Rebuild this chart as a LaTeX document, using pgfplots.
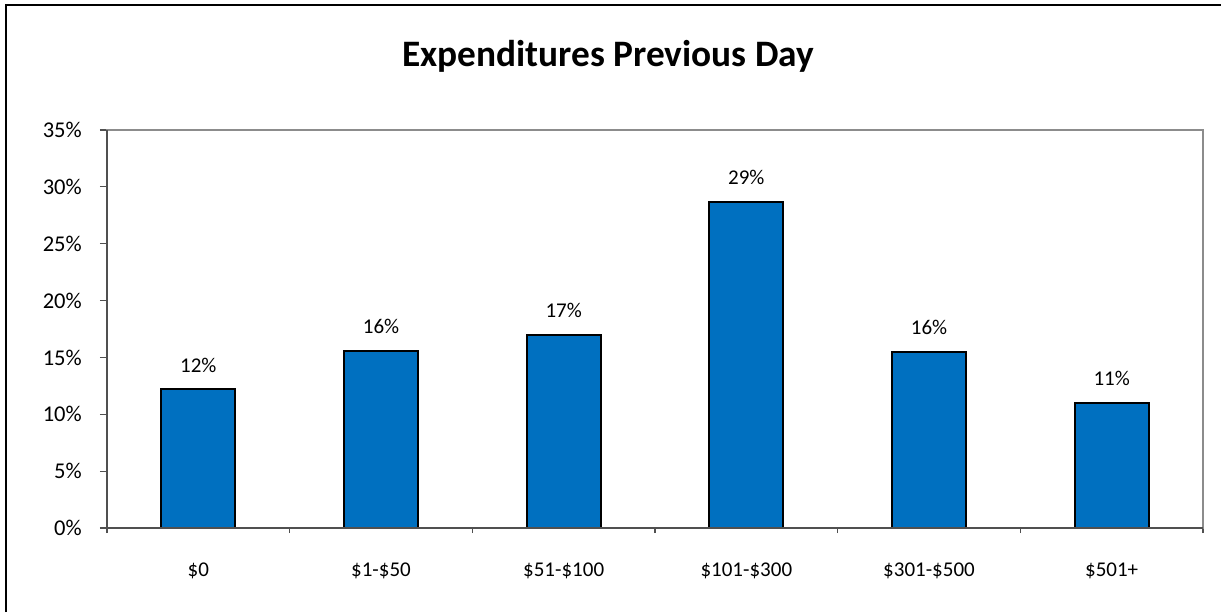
\documentclass[border=0pt]{standalone}
\usepackage{pgfplots}
\pgfplotsset{compat=1.18}
\usepackage{fontspec}
\setmainfont{Carlito}
\definecolor{barblue}{RGB}{0,112,192}
\definecolor{axdark}{RGB}{80,80,80}
\definecolor{axlight}{RGB}{140,140,140}
\begin{document}
\begin{tikzpicture}
\useasboundingbox (0,0) rectangle (915.75pt,459pt);
% outer chart frame (left and top edges visible)
\draw[line width=1.6pt,black] (4.5pt,0pt) -- (4.5pt,455.25pt) -- (915.75pt,455.25pt);
\node[anchor=base,font=\fontsize{28pt}{32pt}\selectfont\bfseries] at (456pt,409pt) {Expenditures Previous Day};
\begin{axis}[
  at={(80.25pt,63pt)}, anchor=south west,
  scale only axis, width=822pt, height=298.5pt,
  xmin=-0.5, xmax=5.5, ymin=0, ymax=35,
  enlargelimits=false,
  axis line style={axlight, line width=1.1pt},
  ybar, bar width=55.5pt,
  xtick={0,1,2,3,4,5},
  xticklabels={\$0,\$1-\$50,\$51-\$100,\$101-\$300,\$301-\$500,\$501+},
  minor xtick={-0.5,0.5,1.5,2.5,3.5,4.5,5.5},
  ytick={0,5,10,15,20,25,30,35},
  yticklabels={0\%,5\%,10\%,15\%,20\%,25\%,30\%,35\%},
  tick align=outside, tick pos=left,
  major tick length=5.25pt, minor tick length=3.75pt,
  x tick style={draw=none}, 
  minor x tick style={draw=axdark, line width=0.8pt},
  y tick style={draw=axdark, line width=0.8pt},
  xticklabel style={font=\fontsize{15.75pt}{18pt}\selectfont, anchor=base, inner sep=0pt, yshift=-31pt},
  yticklabel style={font=\fontsize{16.9pt}{19pt}\selectfont, anchor=east, inner sep=0pt, xshift=-13.5pt},
  point meta=explicit symbolic,
  nodes near coords,
  nodes near coords style={font=\fontsize{15.75pt}{18pt}\selectfont, anchor=base, inner sep=0pt, yshift=12.75pt},
  clip=false,
]
\addplot[fill=barblue, draw=black, line width=1.5pt] coordinates {
  (0,12.2) [12\%]
  (1,15.6) [16\%]
  (2,17.0) [17\%]
  (3,28.7) [29\%]
  (4,15.5) [16\%]
  (5,11.0) [11\%]
};
\draw[axdark, line width=1.1pt] (rel axis cs:0,1) -- (rel axis cs:0,0) -- (rel axis cs:1,0);
\end{axis}
\end{tikzpicture}
\end{document}
